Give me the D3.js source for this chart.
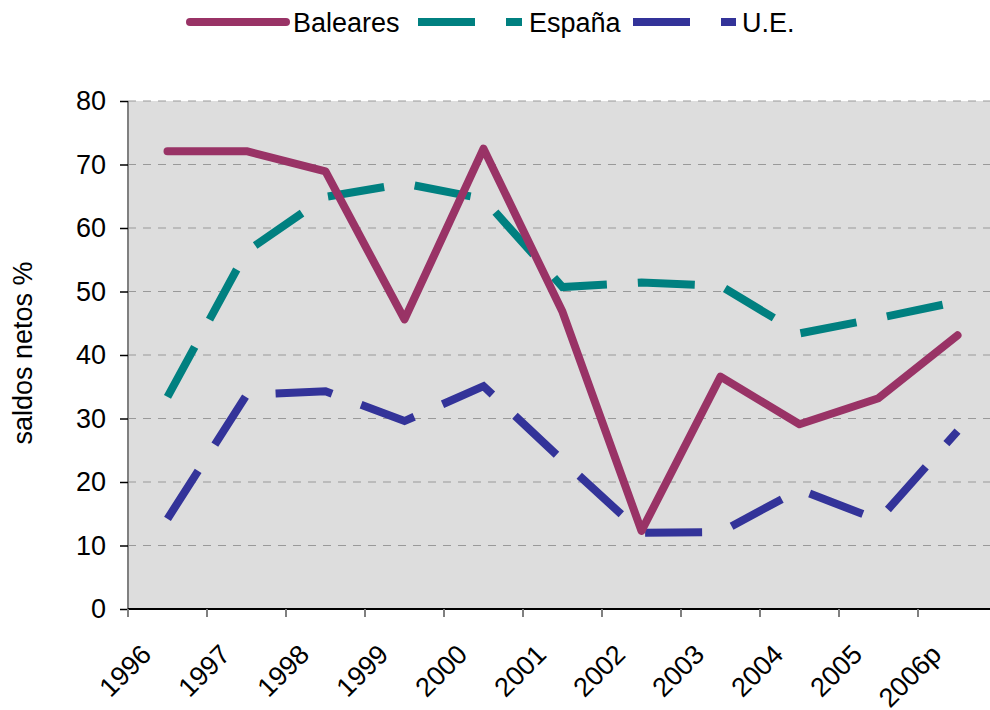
<!DOCTYPE html>
<html lang="es">
<head>
    <meta charset="UTF-8">
    <title>saldos netos</title>
    <script src="https://cdn.jsdelivr.net/npm/d3@7/dist/d3.min.js"></script>
    <style>
        body { margin: 0; background: #fff; }
        svg { display: block; font-family: Arial, "Liberation Sans", sans-serif; }
    </style>
</head>
<body>
    <svg id="mainsvg" width="990" height="710"></svg>
    <script>
        const years = ["1996","1997","1998","1999","2000","2001","2002","2003","2004","2005","2006p"];
        const baleares = [72.1, 72.1, 68.9, 45.6, 72.5, 46.8, 12.3, 36.6, 29.1, 33.2, 43.1];
        const espana   = [33.4, 56.3, 64.9, 67.0, 64.6, 50.7, 51.4, 50.9, 43.4, 45.8, 48.4];
        const ue       = [14.2, 33.7, 34.3, 29.6, 35.1, 23.4, 12.0, 12.1, 18.8, 14.0, 28.0];
        const yTicks = [0, 10, 20, 30, 40, 50, 60, 70, 80];

        const series = [
            {name: "Baleares", values: baleares, color: "#993366", dash: null},
            {name: "España", values: espana, color: "#008080", dash: "57,31"},
            {name: "U.E.", values: ue, color: "#333399", dash: "57,31"}
        ];

        const svg = d3.select("#mainsvg");
        const margin = {top: 101, left: 128, bottom: 101, right: -7};
        const innerWidth = 990 - margin.left - margin.right;
        const innerHeight = 609 - margin.top;

        const xScale = d3.scaleBand().domain(years).range([0, innerWidth]);
        const yScale = d3.scaleLinear().domain([0, 80]).range([innerHeight, 0]);

        const g = svg.append("g").attr("transform", `translate(${margin.left},${margin.top})`);

        // plot background
        g.append("rect").attr("width", innerWidth).attr("height", innerHeight).attr("fill", "#dddddd");

        // gridlines
        g.append("g").selectAll("line").data(yTicks.filter(d => d > 0)).join("line")
            .attr("x1", 0).attr("x2", innerWidth)
            .attr("y1", d => yScale(d)).attr("y2", d => yScale(d))
            .attr("stroke", "#999").attr("stroke-width", 1.2)
            .attr("stroke-dasharray", "8,7");

        // y axis
        const yAxis = d3.axisLeft(yScale).tickValues(yTicks).tickSize(8).tickPadding(14);
        const yg = g.append("g").call(yAxis);
        yg.select(".domain").attr("stroke", "#808080").attr("stroke-width", 2).attr("d", `M0,0V${innerHeight}`);
        yg.selectAll(".tick line").attr("stroke", "#000").attr("stroke-width", 1.5);
        yg.selectAll(".tick text").attr("font-size", "27px").attr("fill", "#000")
            .attr("font-family", "Arial, 'Liberation Sans', sans-serif");

        // x axis, ticks between categories
        const xg = g.append("g").attr("transform", `translate(0,${innerHeight})`);
        xg.append("line").attr("x1", 0).attr("x2", innerWidth).attr("stroke", "#000").attr("stroke-width", 2);
        xg.selectAll(".xt").data(years).join("line").attr("class", "xt")
            .attr("x1", d => xScale(d)).attr("x2", d => xScale(d))
            .attr("y1", 0).attr("y2", 8)
            .attr("stroke", "#808080").attr("stroke-width", 2);
        xg.selectAll(".xl").data(years).join("text").attr("class", "xl")
            .attr("transform", d => `translate(${xScale(d) + 25},${47}) rotate(-45)`)
            .attr("text-anchor", "end")
            .attr("font-size", "27px")
            .text(d => d);

        // lines
        const line = d3.line()
            .x((d, i) => xScale(years[i]) + xScale.bandwidth() / 2)
            .y(d => yScale(d));

        series.slice().reverse().forEach(s => {
            g.append("path")
                .attr("d", line(s.values))
                .attr("fill", "none")
                .attr("stroke", s.color)
                .attr("stroke-width", 8)
                .attr("stroke-linejoin", s.dash ? "miter" : "round")
                .attr("stroke-linecap", s.dash ? "butt" : "round")
                .attr("stroke-dasharray", s.dash);
        });

        // y title
        svg.append("text")
            .attr("transform", "translate(32,353) rotate(-90)")
            .attr("text-anchor", "middle")
            .attr("font-size", "27px")
            .text("saldos netos %");

        // legend
        const legendItems = [
            {s: series[0], x1: 190, x2: 286, tx: 293},
            {s: series[1], x1: 418, x2: 522, tx: 529},
            {s: series[2], x1: 633, x2: 736, tx: 742}
        ];
        const lg = svg.append("g");
        legendItems.forEach(it => {
            lg.append("line")
                .attr("x1", it.x1).attr("x2", it.x2).attr("y1", 22).attr("y2", 22)
                .attr("stroke", it.s.color).attr("stroke-width", 8)
                .attr("stroke-linecap", it.s.dash ? "butt" : "round")
                .attr("stroke-dasharray", it.s.dash);
            lg.append("text")
                .attr("x", it.tx).attr("y", 32)
                .attr("font-size", "27px")
                .text(it.s.name);
        });
    </script>
</body>
</html>
